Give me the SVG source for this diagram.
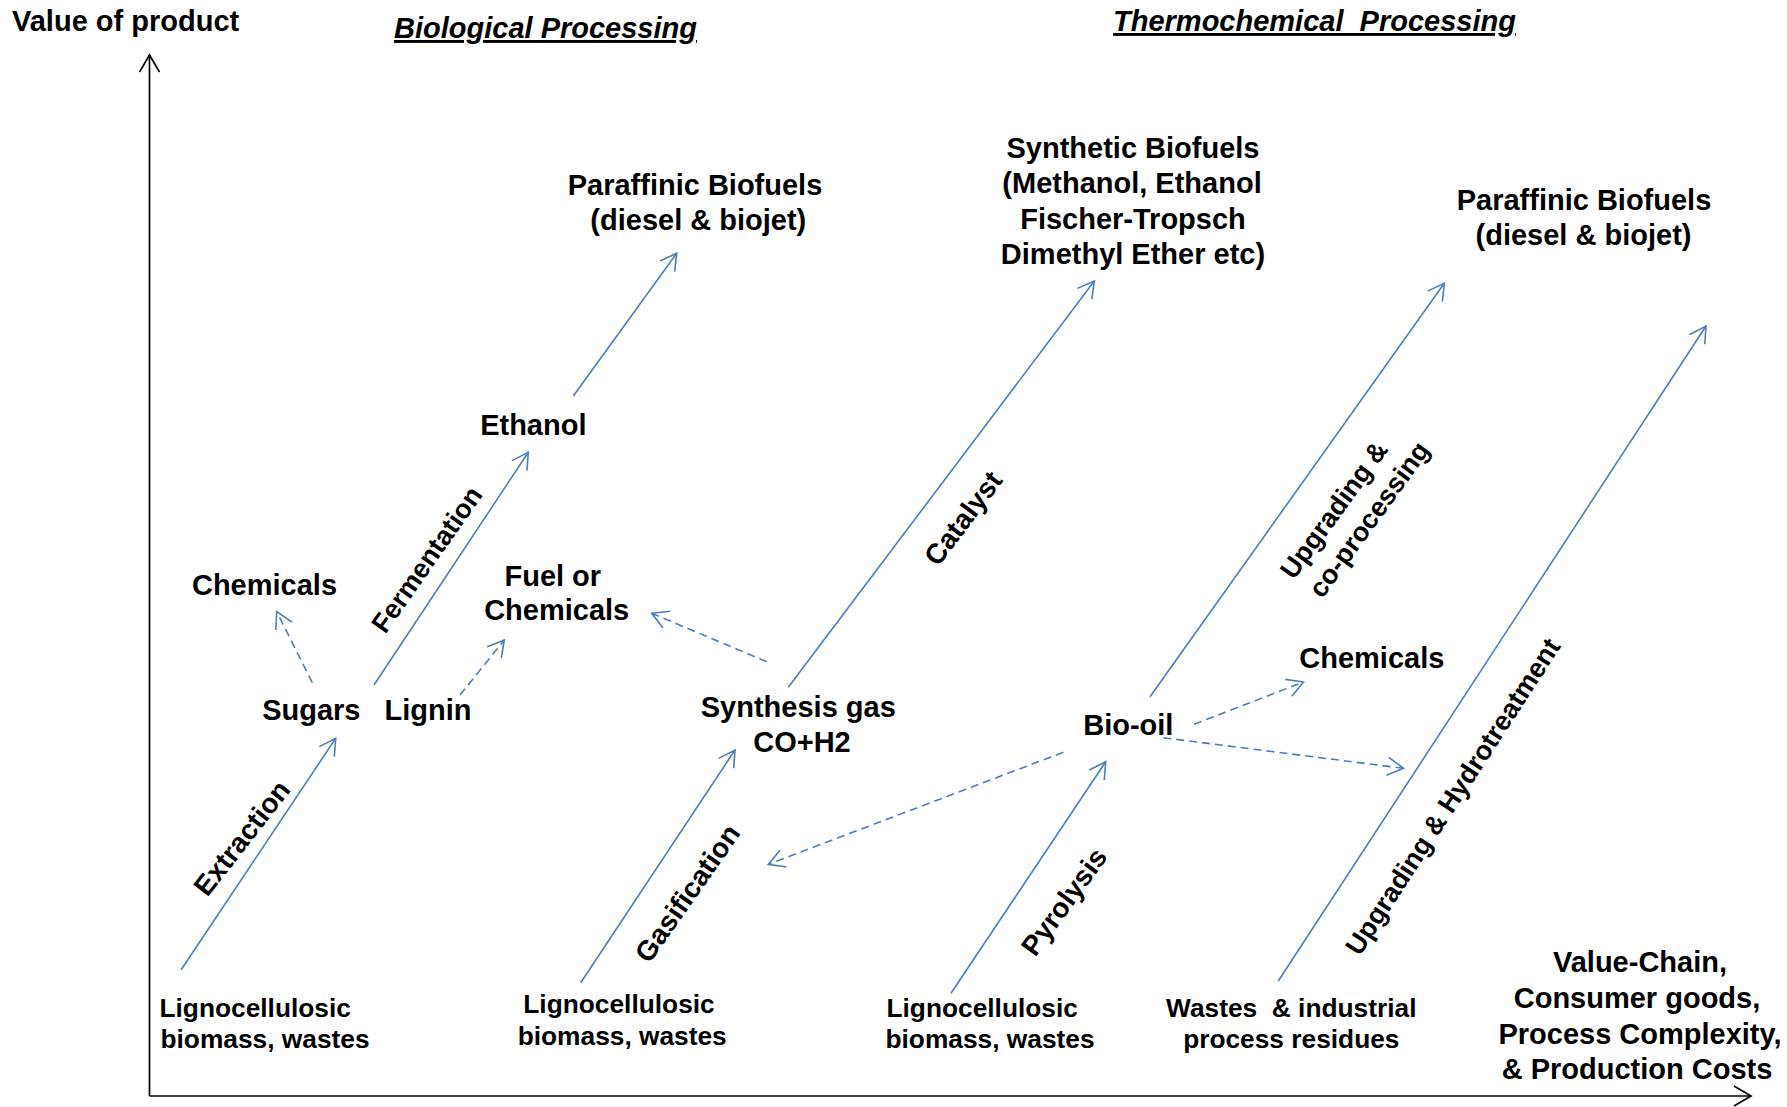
<svg xmlns="http://www.w3.org/2000/svg" width="1787" height="1107" viewBox="0 0 1787 1107">
<style>
text{font-family:"Liberation Sans",Arial,sans-serif;font-weight:bold;fill:#000}
.m{font-size:29px;text-anchor:middle}
.s{font-size:29px}
.b{font-size:26.3px}
.bm{font-size:26.3px;text-anchor:middle;white-space:pre}
.t{font-size:29px;font-style:italic;text-decoration:underline;white-space:pre}
.r{font-size:28px;text-anchor:middle;dominant-baseline:central}
.r7{font-size:27px;text-anchor:middle;dominant-baseline:central}
.c{fill:none;stroke:#4a7ebb;stroke-width:1.6;marker-end:url(#ah)}
.d{fill:none;stroke:#4a7ebb;stroke-width:1.6;stroke-dasharray:8 5;marker-end:url(#ah)}
.ax{fill:none;stroke:#000;stroke-width:1.7;marker-end:url(#ak)}
</style>
<defs>
<marker id="ah" viewBox="0 0 20 20" refX="18" refY="10" markerWidth="20" markerHeight="20" markerUnits="userSpaceOnUse" orient="auto">
<path d="M2,1 L18,10 L2,19" fill="none" stroke="#4a7ebb" stroke-width="1.6"/>
</marker>
<marker id="ak" viewBox="0 0 20 22" refX="18" refY="11" markerWidth="20" markerHeight="22" markerUnits="userSpaceOnUse" orient="auto">
<path d="M1,1 L18,11 L1,21" fill="none" stroke="#000" stroke-width="1.7"/>
</marker>
</defs>
<rect width="1787" height="1107" fill="#fff"/>

<g id="axes">
<line class="ax" x1="149.5" y1="1096" x2="149.5" y2="55"/>
<line class="ax" x1="149.5" y1="1096" x2="1751" y2="1096"/>
<text id="y-label" class="s" x="12" y="30.5">Value of product</text>
<g id="x-label">
<text class="m" x="1640" y="971.7">Value-Chain,</text>
<text class="m" x="1637" y="1008">Consumer goods,</text>
<text class="m" x="1640" y="1043.5">Process Complexity,</text>
<text class="m" x="1637" y="1078.5">&amp; Production Costs</text>
</g>
</g>

<text id="title-bio" class="t" x="394" y="38">Biological Processing</text>
<text id="title-thermo" class="t" x="1113" y="31">Thermochemical  Processing</text>

<g id="connectors">
<line class="c" x1="181" y1="970" x2="335.7" y2="738.3"/>
<line class="c" x1="374" y1="685" x2="528.3" y2="452.3"/>
<line class="c" x1="573.3" y1="396" x2="676.7" y2="253.3"/>
<line class="d" x1="460" y1="695" x2="504.3" y2="640"/>
<line class="d" x1="312.3" y1="682.7" x2="276.7" y2="611.7"/>
<line class="d" x1="766.7" y1="661.7" x2="651.7" y2="613.3"/>
<line class="c" x1="580.7" y1="982.7" x2="735" y2="750"/>
<line class="c" x1="788.3" y1="687.3" x2="1094.3" y2="281"/>
<line class="c" x1="951" y1="993.3" x2="1105.7" y2="761.7"/>
<line class="d" x1="1063.3" y1="752.3" x2="768.3" y2="864.3"/>
<line class="c" x1="1150" y1="696.7" x2="1444.3" y2="283.3"/>
<line class="d" x1="1194" y1="724.3" x2="1303.5" y2="682"/>
<line class="d" x1="1163.3" y1="737.7" x2="1403.5" y2="768.3"/>
<line class="c" x1="1278.3" y1="981" x2="1706" y2="326"/>
<text class="r" transform="translate(242 838) rotate(-52)">Extraction</text>
<text class="r7" transform="translate(427 559.5) rotate(-55)">Fermentation</text>
<text class="r" transform="translate(687.5 893.3) rotate(-55)">Gasification</text>
<text class="r" transform="translate(963.3 518.3) rotate(-53)">Catalyst</text>
<text class="r" transform="translate(1064.2 901.7) rotate(-54)">Pyrolysis</text>
<text class="r7" transform="translate(1334.2 510) rotate(-54)">Upgrading &amp;</text>
<text class="r7" transform="translate(1369.2 519.5) rotate(-54)">co-processing</text>
<text class="r7" transform="translate(1453 796.7) rotate(-57)">Upgrading &amp; Hydrotreatment</text>
</g>

<g id="biomass-1">
<text class="b" x="159.5" y="1016.7">Lignocellulosic</text>
<text class="b" x="160.5" y="1048">biomass, wastes</text>
</g>
<g id="biomass-2">
<text class="b" x="523.3" y="1013.3">Lignocellulosic</text>
<text class="b" x="517.7" y="1045">biomass, wastes</text>
</g>
<g id="biomass-3">
<text class="b" x="886.5" y="1016.7">Lignocellulosic</text>
<text class="b" x="885.5" y="1048">biomass, wastes</text>
</g>
<g id="wastes">
<text class="bm" x="1291.3" y="1016.7">Wastes  &amp; industrial</text>
<text class="bm" x="1291.3" y="1048.3">process residues</text>
</g>
<g id="sugars"><text class="m" x="311.3" y="720">Sugars</text></g>
<g id="lignin"><text class="m" x="428" y="720">Lignin</text></g>
<g id="chemicals-1"><text class="m" x="264.5" y="595">Chemicals</text></g>
<g id="ethanol"><text class="m" x="533.3" y="435">Ethanol</text></g>
<g id="fuel-chemicals">
<text class="m" x="552.8" y="585.7">Fuel or</text>
<text class="m" x="556.7" y="620">Chemicals</text>
</g>
<g id="paraffinic-1">
<text class="m" x="695" y="194.5">Paraffinic Biofuels</text>
<text class="m" x="698.3" y="229.5">(diesel &amp; biojet)</text>
</g>
<g id="syngas">
<text class="m" x="798.3" y="716.7">Synthesis gas</text>
<text class="m" x="802" y="751.7">CO+H2</text>
</g>
<g id="synthetic">
<text class="m" x="1133" y="158.3">Synthetic Biofuels</text>
<text class="m" x="1132" y="193.3">(Methanol, Ethanol</text>
<text class="m" x="1133" y="229.3">Fischer-Tropsch</text>
<text class="m" x="1133" y="263.8">Dimethyl Ether etc)</text>
</g>
<g id="bio-oil"><text class="m" x="1128.3" y="735">Bio-oil</text></g>
<g id="chemicals-2"><text class="m" x="1371.8" y="668.3">Chemicals</text></g>
<g id="paraffinic-2">
<text class="m" x="1584" y="210">Paraffinic Biofuels</text>
<text class="m" x="1583.5" y="245">(diesel &amp; biojet)</text>
</g>
</svg>
